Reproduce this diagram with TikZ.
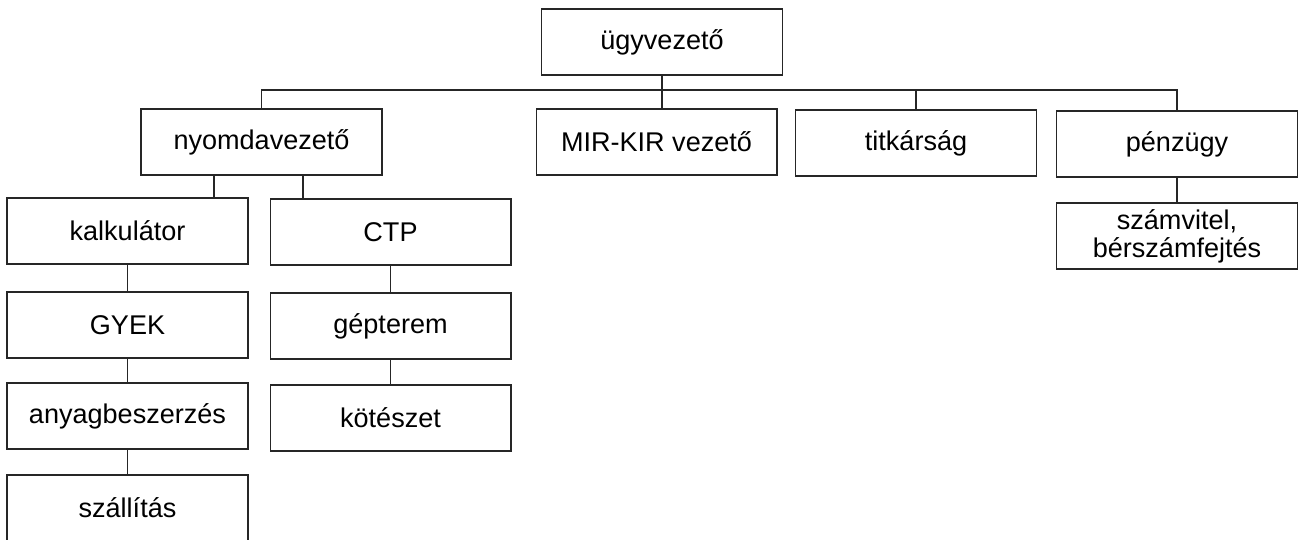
\documentclass[tikz,border=0pt]{standalone}
\usepackage{fontspec}
\setmainfont{Liberation Sans}
\usepackage{tikz}

\begin{document}
\begin{tikzpicture}[x=0.02cm,y=-0.02cm,
    unit/.style={draw=black!85, line width=0.6pt, rectangle,
      minimum width=4.82cm, minimum height=1.32cm, inner sep=0pt,
      align=center, font=\fontsize{15.4}{16}\selectfont},
    line/.style={draw=black!85, line width=0.6pt}]
    \useasboundingbox (0,0) rectangle (1300,539);
    \node[unit] (ugy) at (662,42) {ügyvezető};
    \node[unit] (nyomda) at (261.5,142) {nyomdavezető};
    \node[unit] (mirkir) at (656.5,142) {MIR-KIR vezető};
    \node[unit] (titk) at (916,143) {titkárság};
    \node[unit] (penz) at (1177,144) {pénzügy};
    \node[unit] (szamv) at (1177,236) {számvitel,\\bérszámfejtés};

    \node[unit] (kalk) at (127.5,231) {kalkulátor};
    \node[unit] (gyek) at (127.5,325) {GYEK};
    \node[unit] (anyag) at (127.5,416) {anyagbeszerzés};
    \node[unit] (szall) at (127.5,508) {szállítás};

    \node[unit] (ctp) at (390.5,232) {CTP};
    \node[unit] (gep) at (390.5,326) {gépterem};
    \node[unit] (kot) at (390.5,418) {kötészet};

    \coordinate (bus) at (0,90);
    \coordinate (kx) at (214,0);
    \coordinate (cx) at (303,0);

    \draw[line] (ugy.south) -- (ugy.south |- mirkir.north);
    \draw[line] (nyomda.north) |- (bus -| penz.north) -- (penz.north);
    \draw[line] (titk.north) -- (titk.north |- bus);
    \draw[line] (penz) -- (szamv);

    \draw[line] (nyomda.south -| kx) -- (kalk.north -| kx);
    \draw[line] (nyomda.south -| cx) -- (ctp.north -| cx);
    \draw[line] (kalk) -- (gyek);
    \draw[line] (gyek) -- (anyag);
    \draw[line] (anyag) -- (szall);
    \draw[line] (ctp) -- (gep);
    \draw[line] (gep) -- (kot);
\end{tikzpicture}
\end{document}
